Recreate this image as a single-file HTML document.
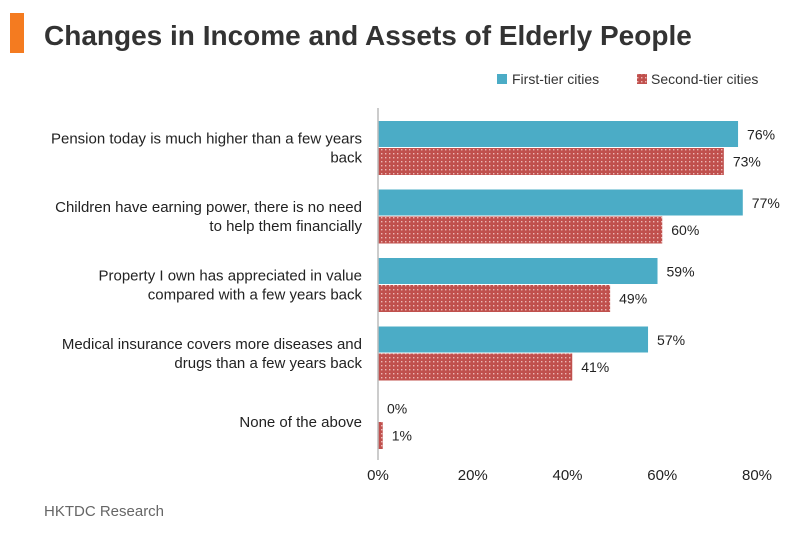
<!DOCTYPE html>
<html><head><meta charset="utf-8"><style>
body{margin:0;background:#fff;font-family:"Liberation Sans",sans-serif;}
</style></head><body>
<svg width="800" height="529" xmlns="http://www.w3.org/2000/svg" style="font-family:'Liberation Sans',sans-serif">
<defs>
<pattern id="dots" width="4" height="4" patternUnits="userSpaceOnUse">
<rect width="4" height="4" fill="#c0504d"/>
<rect x="1" y="1" width="1.4" height="1.4" fill="#ecb8b6"/>
</pattern>
</defs>
<rect x="10" y="13" width="14" height="40" fill="#f47b20"/>
<text x="44" y="45" font-size="28" font-weight="bold" fill="#333">Changes in Income and Assets of Elderly People</text>
<g>
<rect x="497" y="74" width="10" height="10" fill="#4bacc6"/>
<text x="512" y="84" font-size="14" fill="#333">First-tier cities</text>
<rect x="637" y="74" width="10" height="10" fill="url(#dots)"/>
<text x="651" y="84" font-size="14" fill="#333">Second-tier cities</text>
</g>
<g id="plot"></g>
<text x="44" y="516" font-size="15" fill="#666">HKTDC Research</text>
</svg>
<script>
const categories=[["Pension today is much higher than a few years","back"],["Children have earning power, there is no need","to help them financially"],["Property I own has appreciated in value","compared with a few years back"],["Medical insurance covers more diseases and","drugs than a few years back"],["None of the above"]];
const firstTier=[76,77,59,57,0];
const secondTier=[73,60,49,41,1];
const ticks=[0,20,40,60,80];
const NS="http://www.w3.org/2000/svg";
const g=document.getElementById('plot');
const x0=378,x1=757,xmax=80;
const xs=v=>x0+(x1-x0)*v/xmax;
const groupTop=i=>121+68.5*i;
const bh=27;
function mk(t,a,txt){const e=document.createElementNS(NS,t);for(const k in a)e.setAttribute(k,a[k]);if(txt!==undefined)e.textContent=txt;g.appendChild(e);return e;}
categories.forEach((c,i)=>{
 const y=groupTop(i);
 let b=mk('rect',{x:x0,y:y,width:xs(firstTier[i])-x0,height:bh-1,fill:'#4bacc6'});
 
 
 let r=mk('rect',{x:x0,y:y+bh,width:xs(secondTier[i])-x0,height:bh,fill:'url(#dots)'});
 
 
 let l1=mk('text',{x:xs(firstTier[i])+9,y:y+bh/2+5,'font-size':14,fill:'#222'},firstTier[i]+'%');
 
 
 let l2=mk('text',{x:xs(secondTier[i])+9,y:y+bh*1.5+5,'font-size':14,fill:'#222'},secondTier[i]+'%');
 
 
 const cy=y+bh;
 c.forEach((line,j)=>{
  const t=mk('text',{x:362,y:cy+5+(j-(c.length-1)/2)*19,'font-size':15,fill:'#222','text-anchor':'end'},line);
  
  
 });
});
const ax=mk('line',{x1:x0,y1:108,x2:x0,y2:460,stroke:'#bbb','stroke-width':1.5});


ticks.forEach(t=>{
 const e=mk('text',{x:xs(t),y:480,'font-size':15,fill:'#222','text-anchor':'middle'},t+'%');
 
 
});
</script>
</body></html>
